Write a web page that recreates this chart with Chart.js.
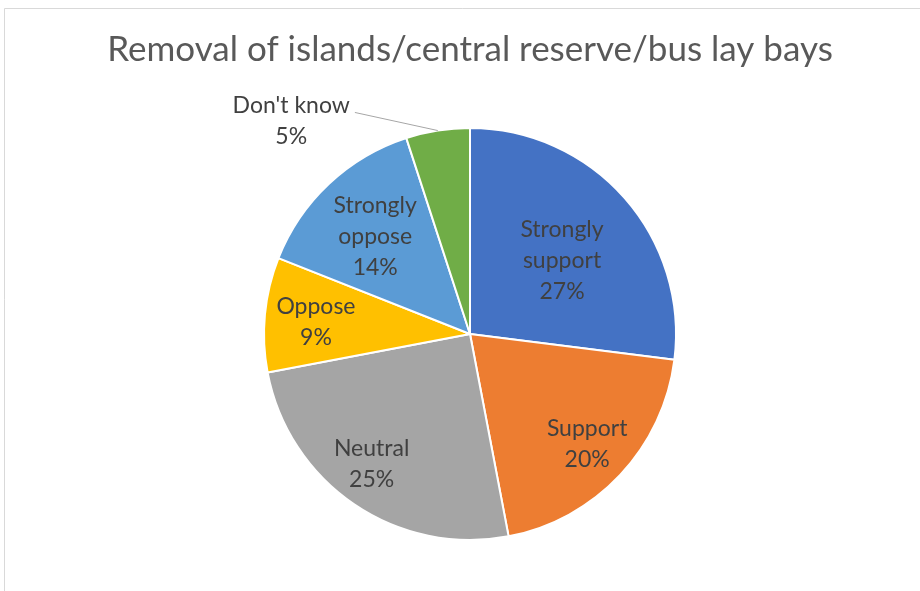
<!DOCTYPE html>
<html>
<head>
<meta charset="utf-8">
<script src="https://cdn.jsdelivr.net/npm/chart.js@4/dist/chart.umd.min.js"></script>
<style>
  html, body { margin: 0; padding: 0; background: #fff; }
  #wrap { width: 920px; height: 591px; position: relative; }
</style>
</head>
<body>
<div id="wrap"><canvas id="pieChart" width="920" height="591"></canvas></div>
<script>
const chartTitle = 'Removal of islands/central reserve/bus lay bays'
const categories = ['Strongly support', 'Support', 'Neutral', 'Oppose', 'Strongly oppose', "Don't know"]
const shares = [27, 20, 25, 9, 14, 5]
const sliceColors = ['#4472C4', '#ED7D31', '#A5A5A5', '#FFC000', '#5B9BD5', '#70AD47']

// how each label is laid out: text lines, and where it sits relative to its slice
const labelLines = [
    ['Strongly', 'support', '27%'],
    ['Support', '20%'],
    ['Neutral', '25%'],
    ['Oppose', '9%'],
    ['Strongly', 'oppose', '14%'],
    ["Don't know", '5%']
]
const labelRadius = [0.57, 0.78, 0.79, 0.75, 0.66, 1.35]
const labelAngleShift = [3, 0, 3, -1, -1, -31]

const FONT = 'Lato, "Open Sans", sans-serif'

const framePlugin = {
    id: 'frame',
    beforeDraw(chart) {
        const ctx = chart.ctx
        ctx.save()
        ctx.strokeStyle = '#d9d9d9'
        ctx.lineWidth = 1
        ctx.beginPath()
        ctx.moveTo(4.5, chart.height)
        ctx.lineTo(4.5, 8.5)
        ctx.lineTo(chart.width, 8.5)
        ctx.stroke()
        ctx.restore()
    }
}

const sliceLabels = {
    id: 'sliceLabels',
    afterDatasetsDraw(chart) {
        const ctx = chart.ctx
        const arcs = chart.getDatasetMeta(0).data
        const lineH = 31
        ctx.save()
        ctx.font = '23px ' + FONT
        ctx.fillStyle = '#404040'
        ctx.textAlign = 'center'
        ctx.textBaseline = 'middle'
        arcs.forEach((arc, i) => {
            const { x, y, startAngle, endAngle, outerRadius } = arc.getProps(['x', 'y', 'startAngle', 'endAngle', 'outerRadius'], true)
            const mid = (startAngle + endAngle) / 2
            const a = mid + labelAngleShift[i] * Math.PI / 180
            const r = outerRadius * labelRadius[i]
            const cx = x + Math.cos(a) * r
            const cy = y + Math.sin(a) * r
            const lines = labelLines[i]
            const top = cy - (lines.length - 1) * lineH / 2
            lines.forEach((t, k) => ctx.fillText(t, cx, top + k * lineH))

            if (labelRadius[i] > 1) {
                // leader line from the label to the slice edge
                const w = ctx.measureText(lines[0]).width
                const sx = cx + w / 2 + 5
                const sy = top + 7
                const ex = x + Math.cos(mid) * outerRadius
                const ey = y + Math.sin(mid) * outerRadius
                ctx.strokeStyle = '#a6a6a6'
                ctx.lineWidth = 1
                ctx.beginPath()
                ctx.moveTo(sx, sy)
                ctx.lineTo(ex, ey)
                ctx.stroke()
            }
        })
        ctx.restore()
    }
}

new Chart(document.getElementById('pieChart'), {
    type: 'pie',
    data: {
        labels: categories,
        datasets: [{
            data: shares,
            backgroundColor: sliceColors,
            borderColor: '#ffffff',
            borderWidth: 2
        }]
    },
    options: {
        responsive: false,
        animation: false,
        events: [],
        layout: { padding: { top: 0, bottom: 50, left: 20, right: 0 } },
        plugins: {
            legend: { display: false },
            tooltip: { enabled: false },
            title: {
                display: true,
                text: chartTitle,
                color: '#595959',
                font: { family: FONT, size: 35, weight: 'normal' },
                padding: { top: 29, bottom: 56 }
            }
        }
    },
    plugins: [framePlugin, sliceLabels]
})
</script>
</body>
</html>
